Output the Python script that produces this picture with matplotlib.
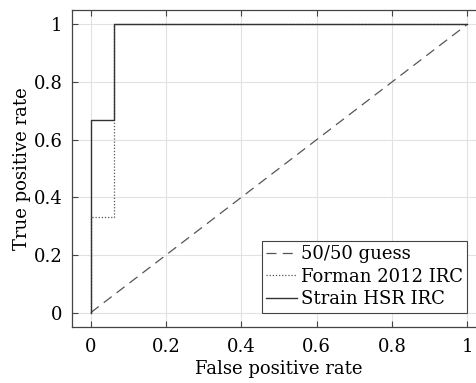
import numpy as np
import matplotlib.pyplot as plt

# ROC curve data
guess_x = [0, 1]
guess_y = [0, 1]
forman_x = [0, 0, 0.0625, 0.0625, 1]
forman_y = [0, 1/3, 1/3, 1, 1]
strain_x = [0, 0, 0.0625, 0.0625, 1]
strain_y = [0, 2/3, 2/3, 1, 1]
ticks = [0, 0.2, 0.4, 0.6, 0.8, 1]
tick_labels = ['0', '0.2', '0.4', '0.6', '0.8', '1']

plt.rcParams['font.family'] = 'DejaVu Serif'
plt.rcParams['font.size'] = 13

fig = plt.figure(figsize=(4.76, 3.83), dpi=100)
# axes box runs past the right edge of the figure, like the cropped reference
ax = fig.add_axes([72/476, 1 - 327/383, 414/476, 317/383])

ax.plot(guess_x, guess_y, color='#555555', ls=(0, (8, 5)), lw=0.9, label='50/50 guess')
ax.plot(forman_x, forman_y, color='#555555', ls=(0, (1, 1.5)), lw=0.9, label='Forman 2012 IRC')
ax.plot(strain_x, strain_y, color='#333333', ls='-', lw=1.0, label='Strain HSR IRC')

ax.set_xlim(-0.05, 1.05)
ax.set_ylim(-0.05, 1.05)
ax.set_xticks(ticks)
ax.set_xticklabels(tick_labels)
ax.set_yticks(ticks)
ax.set_yticklabels(tick_labels)
ax.grid(True, color='#e2e2e2', lw=0.8)
ax.set_axisbelow(True)
ax.tick_params(direction='in', top=True, right=True, length=4, color='#444444')
ax.tick_params(axis='x', pad=8)
ax.tick_params(axis='y', pad=7)
for s in ax.spines.values():
    s.set_color('#444444')
    s.set_linewidth(0.9)

ax.set_xlabel('False positive rate', labelpad=3)
ax.set_ylabel('True positive rate', labelpad=2)

leg = ax.legend(loc='lower right', bbox_to_anchor=(1, 0), bbox_transform=ax.transData,
                fancybox=False, edgecolor='#444444', framealpha=1,
                handlelength=1.7, handletextpad=0.2, borderpad=0.25,
                labelspacing=0.25, borderaxespad=0)
leg.get_frame().set_linewidth(0.8)

fig.savefig('out.png', dpi=100)
